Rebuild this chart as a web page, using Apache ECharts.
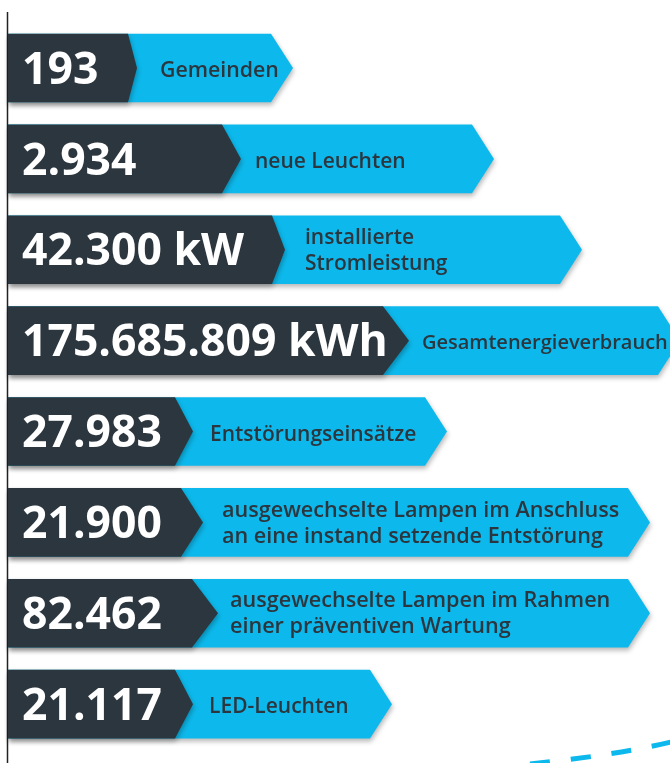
<!DOCTYPE html>
<html>
<head>
<meta charset="utf-8">
<script src="https://cdn.jsdelivr.net/npm/echarts@6/dist/echarts.min.js"></script>
<style>
  html, body { margin: 0; padding: 0; background: #fff; }
  #main { width: 670px; height: 763px; }
</style>
</head>
<body>
<div id="main"></div>
<script>
// Kennzahlen (eine Zeile pro Balken)
var values = ['193', '2.934', '42.300 kW', '175.685.809 kWh', '27.983', '21.900', '82.462', '21.117']
var labels = [
    'Gemeinden',
    'neue Leuchten',
    'installierte\nStromleistung',
    'Gesamtenergieverbrauch',
    'Entstörungseinsätze',
    'ausgewechselte Lampen im Anschluss\nan eine instand setzende Entstörung',
    'ausgewechselte Lampen im Rahmen\neiner präventiven Wartung',
    'LED-Leuchten'
]

// Form der Balken (Achseneinheiten = Pixel)
var darkEnd = [128, 222, 272, 383, 175, 181, 192, 175]
var darkTip = [137, 241, 285, 409, 193, 203, 218, 193]
var labelX = [160, 255, 305, 422, 210, 222, 230, 209]
var arrowEnd = [271, 472, 560, 658, 425, 628, 628, 370]
var labelSize = [21.3, 21, 21, 20, 21, 21.6, 21.6, 21]
var tipDepth = 22

var DARK = '#2c363e'
var CYAN = '#0db9ec'

var myChart = echarts.init(document.getElementById('main'))

var seriesData = values.map(function (v, i) {
    return [darkEnd[i], darkTip[i], arrowEnd[i], i, labelX[i]]
})

function renderItem(params, api) {
    var i = api.value(3)
    var h = api.size([0, 1])[1] * 0.755
    var c = api.coord([0, i])
    var y0 = c[1] - h / 2, y1 = c[1] + h / 2, ym = c[1]
    var x0 = c[0] + 8
    var xd = api.coord([api.value(0), i])[0]
    var xt = api.coord([api.value(1), i])[0]
    var xa = api.coord([api.value(2), i])[0]
    var xl = api.coord([api.value(4), i])[0]
    var shadow = {
        shadowColor: 'rgba(0,0,0,0.28)',
        shadowBlur: 5,
        shadowOffsetX: 1,
        shadowOffsetY: 3
    }
    var oneLine = labels[i].indexOf('\n') < 0
    return {
        type: 'group',
        children: [
            {
                type: 'polygon',
                shape: { points: [[x0, y0], [xa, y0], [xa + tipDepth, ym], [xa, y1], [x0, y1]] },
                style: Object.assign({ fill: CYAN }, shadow)
            },
            {
                type: 'polygon',
                shape: { points: [[x0, y0], [xd, y0], [xt, ym], [xd, y1], [x0, y1]] },
                style: Object.assign({ fill: DARK }, shadow)
            },
            {
                type: 'text',
                style: {
                    x: x0 + 14, y: ym + 3,
                    text: values[i],
                    fill: '#fff',
                    font: 'bold 44.5px "Open Sans"',
                    verticalAlign: 'middle'
                }
            },
            {
                type: 'text',
                style: {
                    x: xl, y: ym + (oneLine ? 3 : 1),
                    text: labels[i],
                    fill: DARK,
                    font: '600 ' + labelSize[i] + 'px "Open Sans"',
                    lineHeight: 26,
                    verticalAlign: 'middle'
                }
            }
        ]
    }
}

option = {
    animation: false,
    grid: { left: 0, right: 0, top: 22.6, bottom: 13.4 },
    xAxis: { type: 'value', min: 0, max: 670, show: false },
    yAxis: {
        type: 'category',
        inverse: true,
        data: values,
        show: false
    },
    graphic: [
        {   // linke Randlinie
            type: 'line',
            shape: { x1: 7.5, y1: 12, x2: 7.5, y2: 763 },
            style: { stroke: '#222', lineWidth: 1.5 }
        },
        {   // gestrichelte Linie unten rechts
            type: 'bezierCurve',
            shape: { x1: 530, y1: 764, cpx1: 585, cpy1: 758, cpx2: 630, cpy2: 752, x2: 675, y2: 741 },
            style: { stroke: CYAN, lineWidth: 5, lineDash: [20, 21], fill: null }
        }
    ],
    series: [
        {
            type: 'custom',
            renderItem: renderItem,
            encode: { x: [0, 1, 2], y: 3 },
            data: seriesData
        }
    ]
}
myChart.setOption(option)
</script>
</body>
</html>
